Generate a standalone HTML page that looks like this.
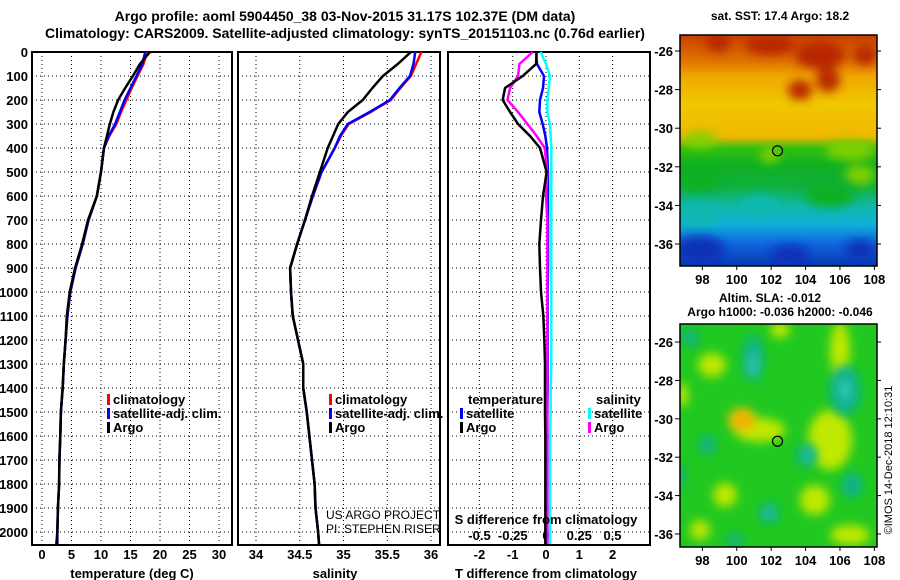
<!DOCTYPE html>
<html><head><meta charset="utf-8"><style>
body{margin:0;background:#fff;}
svg{display:block;font-family:"Liberation Sans",sans-serif;font-weight:bold;}
</style></head><body>
<svg id="c" width="900" height="580" xmlns="http://www.w3.org/2000/svg">
<defs>
<linearGradient id="sst" x1="0" y1="0" x2="0" y2="1">
<stop offset="0" stop-color="#c84000"/><stop offset="0.12" stop-color="#e07800"/><stop offset="0.18" stop-color="#f0a800"/><stop offset="0.3" stop-color="#f0c800"/><stop offset="0.44" stop-color="#f0b800"/><stop offset="0.49" stop-color="#30c010"/><stop offset="0.56" stop-color="#10b020"/><stop offset="0.66" stop-color="#10b040"/><stop offset="0.74" stop-color="#10b8a8"/><stop offset="0.82" stop-color="#10b0d8"/><stop offset="0.9" stop-color="#1068e0"/><stop offset="1" stop-color="#0838b0"/>
</linearGradient>
<filter id="blur" x="-50%" y="-50%" width="200%" height="200%"><feGaussianBlur stdDeviation="5"/></filter>
<clipPath id="clip1"><rect x="680" y="35" width="197" height="231"/></clipPath>
<clipPath id="clip2"><rect x="680" y="324" width="197" height="223"/></clipPath>
</defs>
<text x="345" y="21" font-size="14" text-anchor="middle">Argo profile: aoml 5904450_38 03-Nov-2015 31.17S 102.37E (DM data)</text>
<text x="345" y="38" font-size="14" text-anchor="middle">Climatology: CARS2009. Satellite-adjusted climatology: synTS_20151103.nc (0.76d earlier)</text>
<g id="plots"></g>
<g id="maps"></g>
</svg>
<script>
const NS='http://www.w3.org/2000/svg';
const svg=document.getElementById('plots');
const depths=[0,50,100,150,200,250,300,350,400,500,600,700,800,900,1000,1100,1200,1300,1400,1500,1600,1700,1800,1900,2000,2050];
const tempArgo=[18.3,16.6,15.4,14.1,12.9,12.1,11.5,11.0,10.5,10.0,9.3,7.8,6.8,5.6,4.7,4.2,4.0,3.7,3.5,3.2,3.1,2.95,2.9,2.7,2.6,2.5];
const tempClim=[17.8,17.2,16.2,15.2,14.3,13.4,12.6,11.4,10.5,10.0,9.3,7.9,6.9,5.7,4.8,4.3,4.0,3.7,3.5,3.2,3.1,2.95,2.9,2.7,2.6,2.4];
const tempSat=[17.5,17.0,16.0,15.0,14.0,13.2,12.4,11.3,10.5,10.0,9.3,7.9,6.9,5.7,4.8,4.3,4.0,3.7,3.5,3.2,3.1,2.95,2.9,2.7,2.6,2.6];
const salArgo=[35.77,35.62,35.45,35.33,35.22,35.05,34.94,34.88,34.82,34.73,34.64,34.56,34.47,34.39,34.40,34.42,34.48,34.54,34.54,34.58,34.61,34.64,34.67,34.68,34.71,34.72];
const salClim=[35.89,35.83,35.77,35.65,35.54,35.31,35.06,34.97,34.90,34.75,34.65,34.56,34.47,34.39,34.40,34.42,34.48,34.54,34.54,34.58,34.61,34.64,34.67,34.68,34.71,34.72];
const salSat=[35.82,35.80,35.76,35.64,35.53,35.30,35.05,34.96,34.90,34.75,34.65,34.56,34.47,34.39,34.40,34.42,34.48,34.54,34.54,34.58,34.61,34.64,34.67,34.68,34.71,34.72];
const tdiffArgo=[-0.28,-0.3,-0.7,-1.23,-1.3,-1.08,-0.84,-0.48,-0.18,0.02,-0.09,-0.15,-0.2,-0.18,-0.15,-0.08,-0.05,-0.03,-0.03,-0.03,-0.02,-0.02,-0.02,-0.02,-0.02,-0.02];
const tdiffSat=[-0.3,-0.27,-0.06,-0.09,-0.18,-0.2,-0.1,-0.02,0.03,0.06,0.06,0.06,0.06,0.06,0.05,0.05,0.05,0.05,0.05,0.04,0.04,0.04,0.04,0.04,0.04,0.04];
const sdiffArgo=[-0.1,-0.2,-0.21,-0.27,-0.29,-0.21,-0.14,-0.07,-0.01,0.01,0,0.01,0.01,0.01,0.01,0.01,0.01,0.01,0.01,0.01,0.01,0.01,0.01,0.01,0.01,0.01];
const sdiffSat=[-0.04,0,0.03,0.02,0.01,0.01,0.03,0.035,0.04,0.04,0.04,0.04,0.04,0.04,0.04,0.04,0.04,0.04,0.035,0.035,0.03,0.03,0.03,0.03,0.03,0.03];
const tempTicks=[0,5,10,15,20,25,30];
const salTicks=[34,34.5,35,35.5,36];
const tdTicks=[-2,-1,0,1,2];
const sdTicks=[-0.5,-0.25,0,0.25,0.5];
const depthTicks=[0,100,200,300,400,500,600,700,800,900,1000,1100,1200,1300,1400,1500,1600,1700,1800,1900,2000];
const Y0=52,YB=545;
const yD=d=>Y0+d*0.24;
const xT=v=>42+v*5.9;
const xS=v=>256+(v-34)*87.5;
const xTD=v=>546+v*33.3;
const xSD=v=>546+v*133;
function el(tag,attrs,parent){const e=document.createElementNS(NS,tag);for(const k in attrs)e.setAttribute(k,attrs[k]);(parent||svg).appendChild(e);return e;}
function txt(x,y,s,size,anchor,parent){const t=el('text',{x:x,y:y,'font-size':size,'text-anchor':anchor||'start'},parent);t.textContent=s;return t;}
function panel(x0,x1,ticks,xf,name){
  const g=el('g',{});
  
  
  depthTicks.forEach(d=>{if(d>0)el('line',{x1:x0,x2:x1,y1:yD(d),y2:yD(d),stroke:'#000','stroke-dasharray':'1,3','stroke-width':1},g);});
  ticks.forEach(t=>{el('line',{x1:xf(t),x2:xf(t),y1:Y0,y2:YB,stroke:'#000','stroke-dasharray':'1,3','stroke-width':1},g);});
  el('rect',{x:x0,y:Y0,width:x1-x0,height:YB-Y0,fill:'none',stroke:'#000','stroke-width':2},g);
  return g;
}
function line(xs,xf,color,name,w){
  const p=el('polyline',{points:xs.map((v,i)=>xf(v)+','+yD(depths[i])).join(' '),fill:'none',stroke:color,'stroke-width':w||2.5});
  
  
}
panel(32,232,tempTicks,xT,'temperature-panel');
depthTicks.forEach(d=>{const t=txt(28,yD(d)+5,String(d),13,'end');});
tempTicks.forEach(v=>{const t=txt(xT(v),559,String(v),13,'middle');});
line(tempClim,xT,'#ff0000','temp-climatology-line');
line(tempSat,xT,'#0000ff','temp-satellite-line');
line(tempArgo,xT,'#000','temp-argo-line');
txt(132,578,'temperature (deg C)',13,'middle');
panel(238,440,salTicks,xS,'salinity-panel');
salTicks.forEach(v=>{const t=txt(xS(v),559,String(v),13,'middle');});
line(salClim,xS,'#ff0000','sal-climatology-line');
line(salSat,xS,'#0000ff','sal-satellite-line');
line(salArgo,xS,'#000','sal-argo-line');
txt(335,578,'salinity',13,'middle');
const us1=txt(326,519,'US ARGO PROJECT',12,'start');us1.setAttribute('font-weight','normal');
const us2=txt(326,533,'PI: STEPHEN RISER',12,'start');us2.setAttribute('font-weight','normal');
panel(448,650,tdTicks,xTD,'difference-panel');
tdTicks.forEach(v=>{const t=txt(xTD(v),559,String(v),13,'middle');});
sdTicks.forEach(v=>{const t=txt(xSD(v),540,String(v),13,'middle');});
line(sdiffSat,xSD,'#00ffff','sdiff-satellite-line');
line(tdiffSat,xTD,'#0000ff','tdiff-satellite-line');
line(sdiffArgo,xSD,'#ff00ff','sdiff-argo-line');
line(tdiffArgo,xTD,'#000','tdiff-argo-line');
txt(546,524,'S difference from climatology',13,'middle');
txt(546,578,'T difference from climatology',13,'middle');
function leg(x,y,color,label){el('rect',{x:x,y:y-10,width:3,height:11,fill:color});const t=txt(x+6,y,label,13);}
leg(107,404,'#ff0000','climatology');leg(107,418,'#0000ff','satellite-adj. clim.');leg(107,432,'#000','Argo');
leg(329,404,'#ff0000','climatology');leg(329,418,'#0000ff','satellite-adj. clim.');leg(329,432,'#000','Argo');
txt(468,404,'temperature',13);txt(596,404,'salinity',13);
leg(460,418,'#0000ff','satellite');leg(460,432,'#000','Argo');
leg(588,418,'#00ffff','satellite');leg(588,432,'#ff00ff','Argo');
// maps
const mg=document.getElementById('maps');
const lonTicks=[98,100,102,104,106,108];
const latTicks=[-26,-28,-30,-32,-34,-36];
function map(top,bot,latTop,latBot,name,clip,fillFn){
  const g=el('g',{},mg);
  
  
  const yL=l=>top+(latTop-l)/(latTop-latBot)*(bot-top);
  const xL=l=>680+(l-96.7)*17.2;
  const fg=el('g',{'clip-path':'url(#'+clip+')'},g);
  fillFn(fg,top,bot);
  latTicks.forEach(l=>{txt(673,yL(l)+5,String(l),13,'end',g);el('line',{x1:675,x2:680,y1:yL(l),y2:yL(l),stroke:'#000'},g);el('line',{x1:877,x2:881,y1:yL(l),y2:yL(l),stroke:'#000'},g);});
  lonTicks.forEach(l=>{txt(xL(l),bot+18,String(l),13,'middle',g);el('line',{x1:xL(l),x2:xL(l),y1:bot,y2:bot+4,stroke:'#000'},g);});
  el('rect',{x:680,y:top,width:197,height:bot-top,fill:'none',stroke:'#000','stroke-width':1.5},g);
  el('circle',{cx:xL(102.37),cy:yL(-31.17),r:5,fill:'none',stroke:'#000','stroke-width':1.2},g);
}
function blobs(g,list,color){const b=el('g',{filter:'url(#blur)'},g);list.forEach(e=>el('ellipse',{cx:e[0],cy:e[1],rx:e[2],ry:e[3],fill:color},b));}
map(35,266,-25.17,-37.14,'sst-map','clip1',(g,t,b)=>{
  el('rect',{x:680,y:t,width:197,height:b-t,fill:'url(#sst)'},g);
  blobs(g,[[718,42,12,10],[770,45,25,10],[820,55,25,14],[828,80,12,12],[800,90,12,10],[865,55,12,10]],'#b82800');
  blobs(g,[[700,140,18,8],[770,155,10,8],[850,150,25,10],[860,175,15,10]],'#80d000');
  blobs(g,[[700,180,20,10],[830,195,25,12]],'#10b020');
  blobs(g,[[700,215,20,12],[760,205,20,10]],'#10b8b0');
  blobs(g,[[700,250,25,14],[790,255,20,10],[860,250,15,10]],'#0830b8');
});
map(324,547,-25.06,-36.68,'sla-map','clip2',(g,t,b)=>{
  el('rect',{x:680,y:t,width:197,height:b-t,fill:'#20c820'},g);
  blobs(g,[[712,365,14,12],[840,350,10,28],[830,440,22,30],[815,500,15,15],[725,495,12,12],[682,395,6,12],[780,330,10,8],[850,535,20,10],[700,530,10,10],[760,430,25,12]],'#c0e800');
  blobs(g,[[742,420,14,12]],'#f0c000');
  blobs(g,[[742,420,6,5]],'#f0a000');
  blobs(g,[[690,338,8,8],[753,358,10,22],[845,390,15,25],[707,445,8,9],[807,455,10,11],[852,485,10,12],[769,513,9,10],[735,540,8,6],[680,475,5,10]],'#10b090');
  blobs(g,[[753,365,5,12],[845,390,6,12],[807,455,4,5],[769,513,4,5]],'#30c8b0');
});
txt(780,20,'sat. SST: 17.4 Argo: 18.2',12,'middle',mg);
txt(770,302,'Altim. SLA: -0.012',12,'middle',mg);
txt(780,316,'Argo h1000: -0.036 h2000: -0.046',12,'middle',mg);
const cr=txt(0,0,'©IMOS 14-Dec-2018 12:10:31',11,'middle',mg);cr.setAttribute('transform','translate(892,460) rotate(-90)');cr.setAttribute('font-weight','normal');
</script>
</body></html>
